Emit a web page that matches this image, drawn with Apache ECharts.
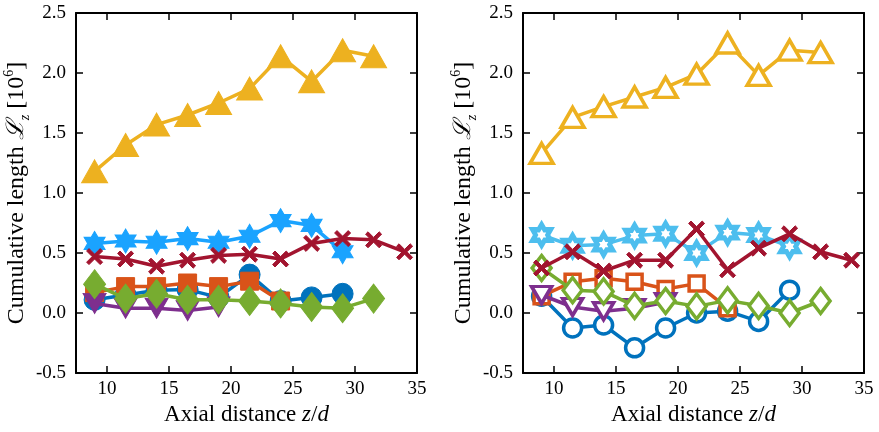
<!DOCTYPE html>
<html>
<head>
<meta charset="utf-8">
<script src="https://cdn.jsdelivr.net/npm/echarts@6/dist/echarts.min.js"></script>
<style>html,body{margin:0;padding:0;background:#fff;}#c{width:879px;height:432px;}</style>
</head>
<body>
<div id="c"></div>
<script>
// ---- data ----
const zPos = [9, 11.5, 14, 16.5, 19, 21.5, 24, 26.5, 29, 31.5, 34];
const xTicks = [10, 15, 20, 25, 30, 35];

const leftCircle   = [0.11, 0.15, 0.19, 0.195, 0.13, 0.32, 0.10, 0.13, 0.16];
const leftSquare   = [0.17, 0.22, 0.22, 0.25, 0.22, 0.265, 0.10];
const leftTriUp    = [1.18, 1.40, 1.57, 1.65, 1.75, 1.87, 2.14, 1.93, 2.19, 2.14];
const leftTriDown  = [0.08, 0.04, 0.04, 0.02, 0.05];
const leftDiamond  = [0.24, 0.12, 0.16, 0.11, 0.11, 0.10, 0.08, 0.05, 0.04, 0.12];
const leftStar     = [0.58, 0.60, 0.59, 0.62, 0.59, 0.64, 0.77, 0.73, 0.51];
const leftCross    = [0.47, 0.45, 0.39, 0.44, 0.48, 0.49, 0.45, 0.58, 0.62, 0.61, 0.51];

const rightCircle  = [0.14, -0.125, -0.10, -0.29, -0.125, 0.0, 0.015, -0.07, 0.19];
const rightSquare  = [0.14, 0.26, 0.29, 0.26, 0.20, 0.245, 0.04];
const rightTriUp   = [1.33, 1.63, 1.72, 1.80, 1.88, 1.99, 2.25, 1.98, 2.19, 2.17];
const rightTriDown = [0.15, 0.05, 0.015, 0.04, 0.09];
const rightDiamond = [0.375, 0.19, 0.18, 0.06, 0.10, 0.055, 0.105, 0.06, 0.0, 0.10];
const rightStar    = [0.65, 0.56, 0.57, 0.645, 0.66, 0.50, 0.67, 0.65, 0.555];
const rightCross   = [0.375, 0.51, 0.35, 0.44, 0.44, 0.70, 0.36, 0.54, 0.66, 0.51, 0.44];

// ---- styles ----
const C = {blue:'#0072BD', orange:'#D95319', yellow:'#EDB120', purple:'#7E2F8E',
           green:'#77AC30', star1:'#1AA3FF', star2:'#4DBEEE', red:'#A2142F'};
const FONT = "'Liberation Serif', 'DejaVu Serif', serif";
const HEX = 'path://M8.66,0 L5.773,5 L0,5 L2.886,10 L0,15 L5.773,15 L8.66,20 L11.547,15 L17.32,15 L14.434,10 L17.32,5 L11.547,5 Z';
const XMARK = 'path://M3,0 L10,7 L17,0 L20,3 L13,10 L20,17 L17,20 L10,13 L3,20 L0,17 L7,10 L0,3 Z';

const pairs = ys => ys.map((y, i) => [zPos[i], y]);

function mk(grid, ys, color, symbol, size, hollow, z, extra) {
  const s = {
    type: 'line', xAxisIndex: grid * 2, yAxisIndex: grid * 2, data: pairs(ys),
    z: z, symbol: symbol, symbolSize: size, symbolKeepAspect: false,
    showAllSymbol: true, animation: false, silent: true,
    lineStyle: {color: color, width: 3.5},
    itemStyle: hollow ? {color: '#fff', borderColor: color, borderWidth: 3.5}
                      : {color: color, borderColor: color, borderWidth: 1}
  };
  return Object.assign(s, extra || {});
}

function axesFor(g) {
  const xb = {type:'value', gridIndex:g, position:'bottom', min:7.5, max:35,
    axisLine:{show:true, onZero:false, lineStyle:{color:'#000', width:2}},
    axisTick:{show:true, inside:true, length:7, customValues:xTicks, lineStyle:{color:'#000', width:1.5}},
    axisLabel:{show:true, customValues:xTicks, color:'#000', fontFamily:FONT, fontSize:19, margin:7},
    splitLine:{show:false},
    name:'Axial distance {i|z}/{i|d}', nameLocation:'middle', nameGap:24,
    nameTextStyle:{color:'#000', fontFamily:FONT, fontSize:23,
      rich:{i:{fontFamily:FONT, fontStyle:'italic', fontSize:23, color:'#000'}}}};
  const xt = {type:'value', gridIndex:g, position:'top', min:7.5, max:35,
    axisLine:{show:true, onZero:false, lineStyle:{color:'#000', width:2}},
    axisTick:{show:true, inside:true, length:7, customValues:xTicks, lineStyle:{color:'#000', width:1.5}},
    axisLabel:{show:false}, splitLine:{show:false}};
  const yl = {type:'value', gridIndex:g, position:'left', min:-0.5, max:2.5, interval:0.5,
    axisLine:{show:true, onZero:false, lineStyle:{color:'#000', width:2}},
    axisTick:{show:true, inside:true, length:7, lineStyle:{color:'#000', width:1.5}},
    axisLabel:{show:true, color:'#000', fontFamily:FONT, fontSize:19, margin:10,
      formatter: v => v.toFixed(1)},
    splitLine:{show:false},
    name:'Cumulative length {L|ℒ}{sub|z} [10{sup|6}]', nameLocation:'middle', nameGap:38,
    nameTextStyle:{color:'#000', fontFamily:FONT, fontSize:24, lineHeight:30,
      rich:{
        L:{fontFamily:FONT, fontStyle:'italic', fontSize:24, color:'#000', lineHeight:30},
        sub:{fontFamily:FONT, fontStyle:'italic', fontSize:14, color:'#000', verticalAlign:'bottom', lineHeight:30},
        sup:{fontFamily:FONT, fontSize:14, color:'#000', verticalAlign:'top', lineHeight:30}
      }}};
  const yr = {type:'value', gridIndex:g, position:'right', min:-0.5, max:2.5, interval:0.5,
    axisLine:{show:true, onZero:false, lineStyle:{color:'#000', width:2}},
    axisTick:{show:true, inside:true, length:7, lineStyle:{color:'#000', width:1.5}},
    axisLabel:{show:false}, splitLine:{show:false}};
  return {x:[xb, xt], y:[yl, yr]};
}

const a0 = axesFor(0), a1 = axesFor(1);

const series = [
  mk(0, leftCircle,  C.blue,   'circle',   21, false, 2),
  mk(0, leftSquare,  C.orange, 'rect',     18, false, 3),
  mk(0, leftTriUp,   C.yellow, 'triangle', [26, 23], false, 4),
  mk(0, leftTriDown, C.purple, 'triangle', [23, 20], false, 5, {symbolRotate:180}),
  mk(0, leftDiamond, C.green,  'diamond',  [22, 29], false, 6),
  mk(0, leftStar,    C.star1,  HEX,        [21, 24], false, 7),
  mk(0, leftCross,   C.red,    XMARK,      16, false, 8),

  mk(1, rightCircle,  C.blue,   'circle',   18, true, 2),
  mk(1, rightSquare,  C.orange, 'rect',     15, true, 3),
  mk(1, rightTriUp,   C.yellow, 'triangle', [23, 20], true, 4),
  mk(1, rightTriDown, C.purple, 'triangle', [20, 17], true, 5, {symbolRotate:180}),
  mk(1, rightDiamond, C.green,  'diamond',  [19, 25], true, 6),
  mk(1, rightStar,    C.star2,  HEX,        [18, 21], true, 7, {itemStyle:{color:'#fff', borderColor:C.star2, borderWidth:5}}),
  mk(1, rightCross,   C.red,    XMARK,      16, false, 8)
];

const chart = echarts.init(document.getElementById('c'), null, {renderer:'canvas'});
chart.setOption({
  animation: false,
  backgroundColor: '#fff',
  grid: [
    {left:76, top:13, width:341, height:360},
    {left:523, top:13, width:341, height:360}
  ],
  xAxis: [...a0.x, ...a1.x],
  yAxis: [...a0.y, ...a1.y],
  series: series
});
</script>
</body>
</html>
